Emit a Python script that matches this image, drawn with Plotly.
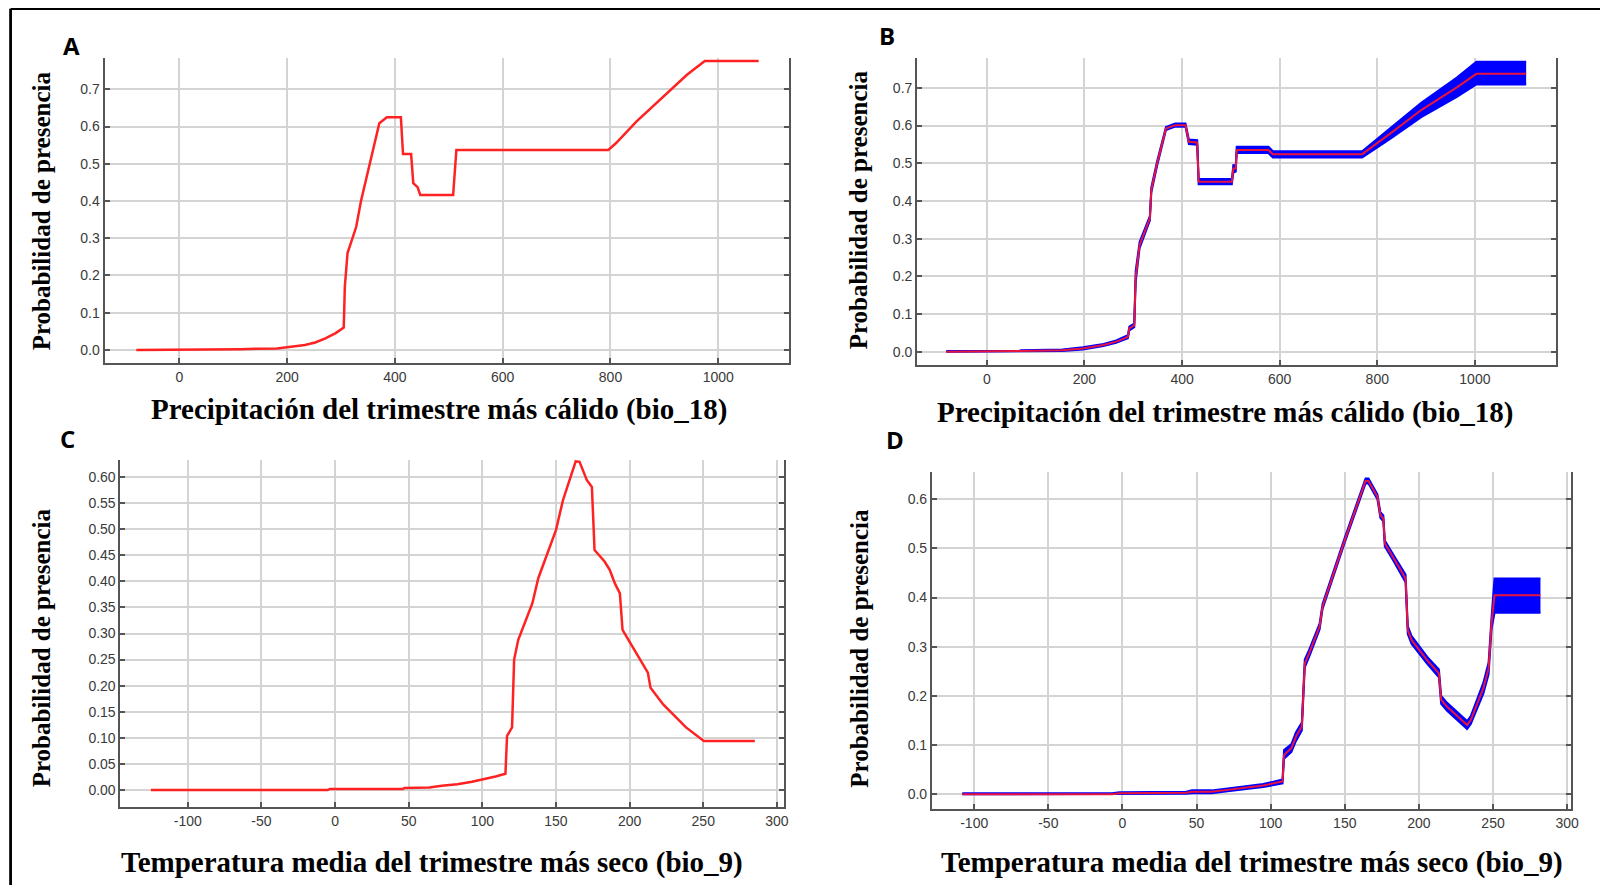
import plotly.graph_objects as go

# page body has an 8px margin; figure is sized so that it fills the 1608x885 window
OFF = 8
FW, FH = 1600, 877

# ---------------- data ----------------
# Panel A: bio_18 response (single model)
A_x = [-80, 110, 112, 181, 215, 233, 252, 271, 290, 305, 307, 312, 328, 333, 337, 371, 385, 411,
       415, 430, 434, 442, 447, 508, 514, 796, 810, 848, 895, 942, 975, 1075]
A_y = [0.000, 0.000, 0.002, 0.004, 0.009, 0.013, 0.020, 0.031, 0.045, 0.060, 0.170, 0.260, 0.330,
       0.367, 0.400, 0.609, 0.625, 0.625, 0.526, 0.526, 0.448, 0.437, 0.416, 0.416, 0.537, 0.537,
       0.555, 0.613, 0.676, 0.739, 0.776, 0.776]

# Panel B: bio_18 response (mean +/- band)
B_x = [-83, 66, 70, 155, 197, 239, 265, 281, 289, 292, 302, 305, 313, 334, 337, 349, 367, 386, 407,
       414, 431, 434, 502, 505, 510, 512, 577, 586, 769, 827, 890, 963, 1003, 1105]
B_y = [0.000, 0.000, 0.002, 0.004, 0.009, 0.018, 0.027, 0.035, 0.040, 0.062, 0.070, 0.200, 0.283,
       0.354, 0.429, 0.500, 0.592, 0.601, 0.601, 0.557, 0.555, 0.451, 0.451, 0.486, 0.486, 0.535,
       0.535, 0.524, 0.524, 0.579, 0.641, 0.701, 0.737, 0.737]
B_lo = [0.000, 0.000, 0.000, 0.002, 0.006, 0.015, 0.024, 0.032, 0.036, 0.057, 0.065, 0.185, 0.275,
        0.348, 0.422, 0.494, 0.588, 0.597, 0.597, 0.551, 0.549, 0.444, 0.444, 0.475, 0.478, 0.527,
        0.527, 0.515, 0.515, 0.565, 0.622, 0.676, 0.709, 0.709]
B_hi = [0.002, 0.002, 0.004, 0.006, 0.012, 0.021, 0.030, 0.038, 0.044, 0.067, 0.075, 0.215, 0.291,
        0.360, 0.436, 0.506, 0.596, 0.605, 0.605, 0.563, 0.561, 0.458, 0.458, 0.495, 0.494, 0.544,
        0.544, 0.532, 0.532, 0.593, 0.660, 0.727, 0.769, 0.769]

# Panel C: bio_9 response (single model)
C_x = [-125, -5, -3.5, 46, 47, 64, 72.5, 83, 93, 100, 109, 115.7, 116.8, 120.2, 121.6, 124.4, 134,
       138, 150, 154.7, 163.4, 166, 168.6, 171, 174.4, 176.2, 183, 186.5, 190, 193.4, 195.2, 202,
       205.5, 212.4, 214.2, 222.8, 238.3, 250.4, 285]
C_y = [0.000, 0.000, 0.002, 0.002, 0.004, 0.005, 0.008, 0.011, 0.016, 0.020, 0.026, 0.031, 0.104,
       0.120, 0.250, 0.288, 0.358, 0.406, 0.498, 0.555, 0.630, 0.629, 0.610, 0.594, 0.581, 0.460,
       0.438, 0.422, 0.396, 0.377, 0.307, 0.275, 0.256, 0.225, 0.196, 0.164, 0.120, 0.094, 0.094]

# Panel D: bio_9 response (mean +/- band)
D_x = [-108, -7, -2, 43, 47, 60, 71, 85, 95, 108, 109, 114, 117, 121, 123, 126, 133, 135, 150, 164,
       166, 172, 174, 176, 177, 183, 191, 192.5, 195, 205.5, 213.5, 215, 219, 232.5, 235, 243.5,
       247, 249, 251, 282]
D_y = [0, 0, 0.002, 0.003, 0.005, 0.005, 0.009, 0.014, 0.018, 0.026, 0.080, 0.094, 0.117, 0.138,
       0.266, 0.287, 0.341, 0.382, 0.517, 0.637, 0.637, 0.605, 0.568, 0.561, 0.510, 0.480, 0.439,
       0.334, 0.314, 0.273, 0.246, 0.192, 0.178, 0.141, 0.151, 0.216, 0.256, 0.348, 0.405, 0.405]
D_lo = [0, 0, 0, 0.001, 0.002, 0.002, 0.006, 0.011, 0.015, 0.022, 0.072, 0.086, 0.108, 0.130,
        0.258, 0.280, 0.335, 0.377, 0.512, 0.632, 0.632, 0.600, 0.562, 0.555, 0.504, 0.474, 0.431,
        0.326, 0.306, 0.266, 0.238, 0.184, 0.170, 0.133, 0.143, 0.205, 0.244, 0.336, 0.369, 0.369]
D_hi = [0.002, 0.002, 0.004, 0.005, 0.008, 0.008, 0.012, 0.017, 0.021, 0.030, 0.090, 0.102, 0.126,
        0.146, 0.274, 0.294, 0.347, 0.387, 0.522, 0.642, 0.642, 0.610, 0.574, 0.567, 0.516, 0.486,
        0.447, 0.342, 0.322, 0.280, 0.254, 0.200, 0.186, 0.149, 0.159, 0.227, 0.268, 0.360, 0.439,
        0.439]

# tick values / labels
X18_ticks = [0, 200, 400, 600, 800, 1000]
X18_labels = ["0", "200", "400", "600", "800", "1000"]
Y_ticks_01 = [0.0, 0.1, 0.2, 0.3, 0.4, 0.5, 0.6, 0.7]
X9_ticks = [-100, -50, 0, 50, 100, 150, 200, 250, 300]
X9_labels = ["-100", "-50", "0", "50", "100", "150", "200", "250", "300"]
Y_ticks_C = [0.00, 0.05, 0.10, 0.15, 0.20, 0.25, 0.30, 0.35, 0.40, 0.45, 0.50, 0.55, 0.60]
Y_ticks_D = [0.0, 0.1, 0.2, 0.3, 0.4, 0.5, 0.6]

Y_TITLE = "Probabilidad de presencia"
X_TITLE_18 = "Precipitación del trimestre más cálido (bio_18)"
X_TITLE_9 = "Temperatura media del trimestre más seco (bio_9)"
LETTERS = ["A", "B", "C", "D"]

# ---------------- styling ----------------
RED = "#ff2222"
RED2 = "#e8143c"
BLUE = "#0000ff"


def px_dom(a, b):
    return [(a - OFF) / FW, (b - OFF) / FW]


def ydom(top, bottom):
    return [1 - (bottom - OFF) / FH, 1 - (top - OFF) / FH]


def px(x):
    return (x - OFF) / FW


def py(y):
    return 1 - (y - OFF) / FH


fig = go.Figure()

# A
fig.add_trace(go.Scatter(x=A_x, y=A_y, mode="lines", line=dict(color=RED, width=2.5),
                         xaxis="x", yaxis="y", showlegend=False))
# B band
fig.add_trace(go.Scatter(x=B_x, y=B_lo, mode="lines", line=dict(color=BLUE, width=2),
                         xaxis="x2", yaxis="y2", showlegend=False))
fig.add_trace(go.Scatter(x=B_x, y=B_hi, mode="lines", line=dict(color=BLUE, width=2),
                         fill="tonexty", fillcolor=BLUE, xaxis="x2", yaxis="y2", showlegend=False))
fig.add_trace(go.Scatter(x=B_x, y=B_y, mode="lines", line=dict(color=RED2, width=2),
                         xaxis="x2", yaxis="y2", showlegend=False))
# C
fig.add_trace(go.Scatter(x=C_x, y=C_y, mode="lines", line=dict(color=RED, width=2.5),
                         xaxis="x3", yaxis="y3", showlegend=False))
# D band
fig.add_trace(go.Scatter(x=D_x, y=D_lo, mode="lines", line=dict(color=BLUE, width=2),
                         xaxis="x4", yaxis="y4", showlegend=False))
fig.add_trace(go.Scatter(x=D_x, y=D_hi, mode="lines", line=dict(color=BLUE, width=2),
                         fill="tonexty", fillcolor=BLUE, xaxis="x4", yaxis="y4", showlegend=False))
fig.add_trace(go.Scatter(x=D_x, y=D_y, mode="lines", line=dict(color=RED2, width=2),
                         xaxis="x4", yaxis="y4", showlegend=False))

tickfont = dict(family="Liberation Sans, Arial, sans-serif", size=14, color="#3a3a3a")
common = dict(showgrid=True, gridcolor="#d4d4d4", gridwidth=1.5, zeroline=False,
              showline=True, linecolor="#555555", linewidth=2,
              ticks="inside", ticklen=5, tickwidth=1.5, tickcolor="#555555",
              tickfont=tickfont, fixedrange=True)

layout = dict(
    width=FW, height=FH, paper_bgcolor="white", plot_bgcolor="white",
    margin=dict(l=0, r=0, t=0, b=0), showlegend=False,
    xaxis=dict(domain=px_dom(105, 793.3), range=[-139, 1132], tickvals=X18_ticks,
               ticktext=X18_labels, anchor="y", **common),
    yaxis=dict(domain=ydom(58, 363.3), range=[-0.036, 0.784], tickvals=Y_ticks_01,
               tickformat=".1f", anchor="x", mirror="ticks", **common),
    xaxis2=dict(domain=px_dom(921.7, 1564.2), range=[-142.8, 1167], tickvals=X18_ticks,
                ticktext=X18_labels, anchor="y2", **common),
    yaxis2=dict(domain=ydom(58, 365), range=[-0.035, 0.779], tickvals=Y_ticks_01,
                tickformat=".1f", anchor="x2", mirror="ticks", **common),
    xaxis3=dict(domain=px_dom(121, 788.3), range=[-145.7, 305.1], tickvals=X9_ticks,
                ticktext=X9_labels, anchor="y3", **common),
    yaxis3=dict(domain=ydom(460, 806.7), range=[-0.032, 0.6326], tickvals=Y_ticks_C,
                tickformat=".2f", anchor="x3", mirror="ticks", **common),
    xaxis4=dict(domain=px_dom(936.6, 1579), range=[-128.5, 302.7], tickvals=X9_ticks,
                ticktext=X9_labels, anchor="y4", **common),
    yaxis4=dict(domain=ydom(471.7, 809.3), range=[-0.0305, 0.656], tickvals=Y_ticks_D,
                tickformat=".1f", anchor="x4", mirror="ticks", **common),
)
fig.update_layout(**layout)

serif_y = dict(family="Liberation Serif, Times New Roman, serif", size=25, color="black")
serif_x = dict(family="Liberation Serif, Times New Roman, serif", size=29, color="black")
letter_font = dict(family="Open Sans, DejaVu Sans, sans-serif", size=24, color="black")

annots = []
# y-axis titles
for (cx, cy) in [(42, 210.5), (862.6, 210), (41.5, 648), (863, 648)]:
    annots.append(dict(x=px(cx), y=py(cy), xref="paper", yref="paper", text="<b>%s</b>" % Y_TITLE,
                       textangle=-90, showarrow=False, xanchor="center", yanchor="middle", font=serif_y))
# x-axis titles
for (cx, cy, t) in [(441, 409.5, X_TITLE_18), (1231, 412, X_TITLE_18),
                    (434, 862.5, X_TITLE_9), (1258, 862.5, X_TITLE_9)]:
    annots.append(dict(x=px(cx), y=py(cy), xref="paper", yref="paper", text="<b>%s</b>" % t,
                       showarrow=False, xanchor="center", yanchor="middle", font=serif_x))
# panel letters
for (cx, cy), L in zip([(71.5, 45.5), (891, 36), (68, 438.5), (899, 439.5)], LETTERS):
    annots.append(dict(x=px(cx), y=py(cy), xref="paper", yref="paper", text="<b>%s</b>" % L,
                       showarrow=False, xanchor="center", yanchor="middle", font=letter_font))
fig.update_layout(annotations=annots)

# frame lines (top and left)
fig.update_layout(shapes=[
    dict(type="line", xref="paper", yref="paper", x0=px(10.6), x1=1, y0=py(8.7), y1=py(8.7),
         line=dict(color="black", width=2.8)),
    dict(type="line", xref="paper", yref="paper", x0=px(10.6), x1=px(10.6), y0=0, y1=py(8.7),
         line=dict(color="black", width=2.8)),
])

fig.write_html("out.html")
